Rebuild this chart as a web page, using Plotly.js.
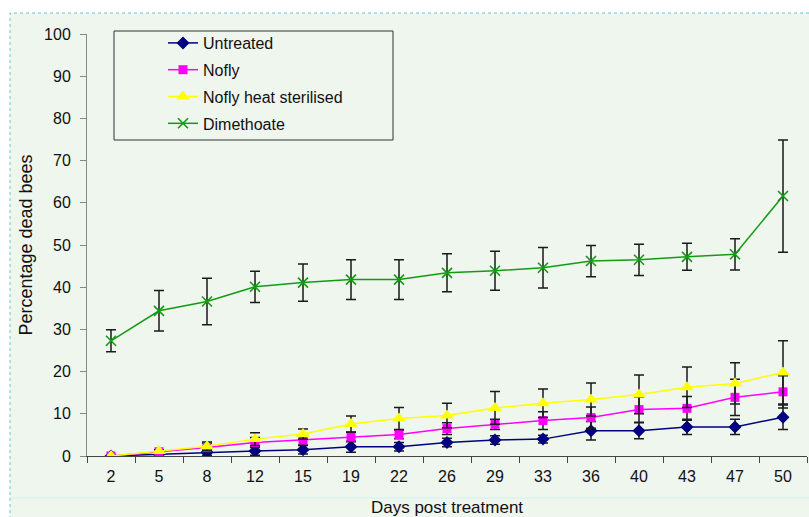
<!DOCTYPE html>
<html>
<head>
<meta charset="utf-8">
<script src="https://cdn.plot.ly/plotly-3.0.1.min.js"></script>
<style>
html,body{margin:0;padding:0;background:#fff;}
#chart{width:809px;height:517px;}
</style>
</head>
<body>
<div id="chart"></div>
<script>
// ---- data ----
const days = ['2','5','8','12','15','19','22','26','29','33','36','40','43','47','50'];

const untreated    = [0, 0.4, 0.9, 1.2, 1.5, 2.2, 2.2, 3.2, 3.8, 4.0, 6.0, 6.0, 6.9, 6.9, 9.2];
const untreatedErr = [0, 0.4, 0.7, 1.0, 1.0, 1.3, 1.0, 1.0, 1.0, 0.9, 2.2, 1.9, 1.8, 1.8, 2.9];

const nofly        = [0, 1.0, 2.0, 3.2, 3.8, 4.5, 5.1, 6.5, 7.5, 8.4, 9.1, 11.0, 11.3, 13.9, 15.2];
const noflyErr     = [0, 0.4, 1.0, 1.2, 1.2, 1.1, 1.0, 1.4, 1.2, 2.1, 2.5, 3.0, 2.8, 4.3, 3.8];

const heat         = [0, 1.2, 2.3, 4.0, 5.2, 7.6, 8.9, 9.6, 11.4, 12.5, 13.4, 14.6, 16.3, 17.2, 19.8];
const heatErr      = [0, 0.3, 1.0, 1.5, 1.2, 1.9, 2.6, 2.9, 3.9, 3.4, 3.9, 4.6, 4.8, 4.9, 7.5];

const dimethoate    = [27.3, 34.4, 36.6, 40.1, 41.1, 41.8, 41.8, 43.4, 43.9, 44.6, 46.2, 46.5, 47.2, 47.8, 61.6];
const dimethoateErr = [2.6, 4.8, 5.5, 3.7, 4.4, 4.7, 4.7, 4.5, 4.6, 4.8, 3.7, 3.7, 3.2, 3.7, 13.3];

const seriesNames = ['Untreated', 'Nofly', 'Nofly heat sterilised', 'Dimethoate'];

// ---- styles ----
const FONT = 'Liberation Sans, Arial, sans-serif';
const BG = '#eef6ee';
function err(arr){
  return {type:'data', array:arr, visible:true, color:'#1a1a1a', thickness:1.5, width:5};
}

const traces = [
  {x:days, y:untreated, name:seriesNames[0], legendgroup:'a', mode:'lines+markers', type:'scatter',
   line:{color:'#000080', width:1.5}, marker:{symbol:'diamond', size:10, color:'#000080'},
   error_y:err(untreatedErr)},
  {x:days, y:nofly, name:seriesNames[1], legendgroup:'b', mode:'lines+markers', type:'scatter',
   line:{color:'#ff00ff', width:1.5}, marker:{symbol:'square', size:9, color:'#ff00ff'},
   error_y:err(noflyErr)},
  {x:days, y:heat, name:seriesNames[2], legendgroup:'c', mode:'lines+markers', type:'scatter',
   line:{color:'#ffff00', width:1.5}, marker:{symbol:'triangle-up', size:12, color:'#ffff00'},
   error_y:err(heatErr)},
  {x:days, y:dimethoate, name:seriesNames[3], legendgroup:'d', mode:'lines+markers', type:'scatter',
   line:{color:'#139a13', width:1.5}, marker:{symbol:'x-thin-open', size:10, color:'#139a13', line:{width:1.6, color:'#139a13'}},
   error_y:err(dimethoateErr)}
];

// plot area: x 87..807, y 34..456
const PL = 87, PW = 720, PT = 34, PH = 422;
function px(x){ return (x - PL) / PW; }
function py(y){ return (PT + PH - y) / PH; }

const layout = {
  width: 809, height: 517,
  margin: {l: PL, r: 809 - PL - PW, t: PT, b: 517 - PT - PH, pad: 0, autoexpand: false},
  paper_bgcolor: '#ffffff',
  plot_bgcolor: 'rgba(0,0,0,0)',
  font: {family: FONT, size: 16, color: '#111'},
  showlegend: true,
  legend: {
    x: px(163), xanchor: 'left', y: py(26), yanchor: 'top',
    bgcolor: 'rgba(0,0,0,0)', borderwidth: 0,
    font: {family: FONT, size: 16, color: '#111'},
    tracegroupgap: 3, traceorder: 'grouped'
  },
  xaxis: {
    type: 'category', automargin: false, autorange: false, range: [-0.5, days.length - 0.5],
    showline: true, linecolor: '#444', linewidth: 1,
    ticks: 'outside', tickson: 'boundaries', ticklen: 6, tickcolor: '#444', tickwidth: 1,
    showgrid: false, zeroline: false,
    tickfont: {family: FONT, size: 16, color: '#111'},
    ticklabelstandoff: 6,
    title: {text: 'Days post treatment', font: {family: FONT, size: 17, color: '#111'}, standoff: 25}
  },
  yaxis: {
    range: [0, 100], autorange: false, dtick: 10, tick0: 0, automargin: false,
    showline: true, linecolor: '#888', linewidth: 1,
    ticks: 'outside', ticklen: 6, tickcolor: '#888', tickwidth: 1,
    showgrid: false, zeroline: false,
    tickfont: {family: FONT, size: 16, color: '#111'},
    ticklabelstandoff: 6,
    title: {text: 'Percentage dead bees', font: {family: FONT, size: 18, color: '#111'}, standoff: 6}
  },
  shapes: [
    {type: 'rect', xref: 'paper', yref: 'paper', layer: 'below',
     x0: px(10), x1: px(812), y0: py(522), y1: py(13),
     fillcolor: BG, line: {color: '#6cc3cf', width: 1, dash: 'dot'}},
    {type: 'line', xref: 'paper', yref: 'paper', layer: 'below',
     x0: px(10), x1: px(812), y0: py(498), y1: py(498),
     line: {color: '#d6eeee', width: 1}},
    {type: 'rect', xref: 'paper', yref: 'paper', layer: 'below',
     x0: px(114), x1: px(393), y0: py(140), y1: py(31),
     fillcolor: BG, line: {color: '#333', width: 1}}
  ]
};

Plotly.newPlot('chart', traces, layout, {staticPlot: true, displayModeBar: false});
</script>
</body>
</html>
